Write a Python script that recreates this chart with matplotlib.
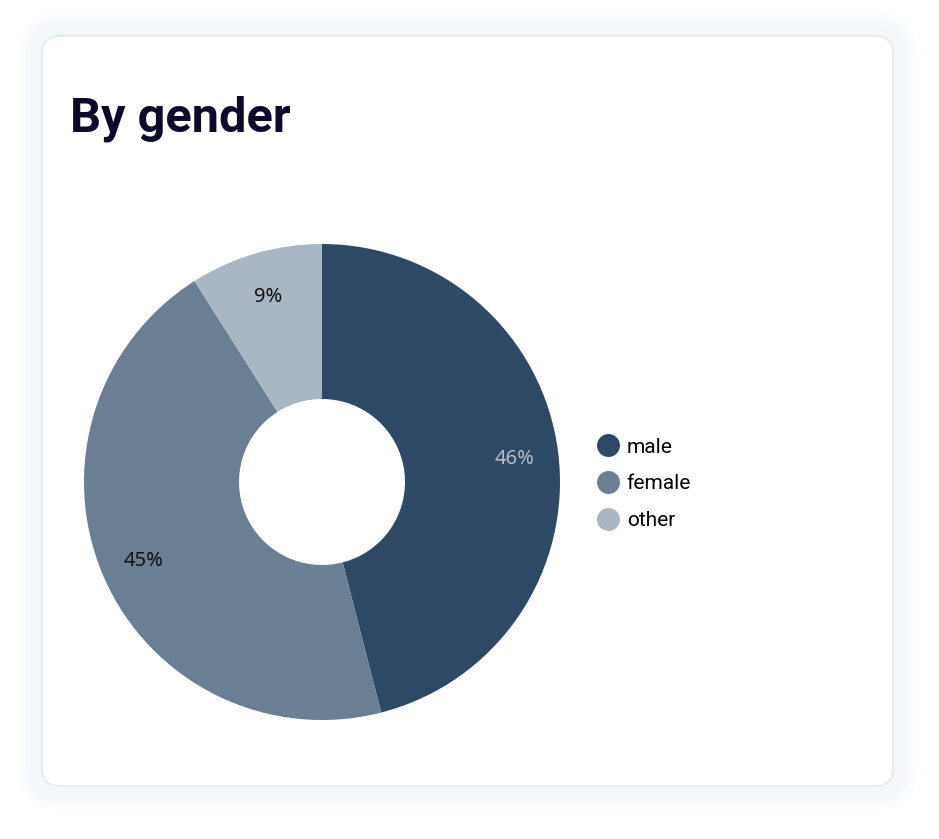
import matplotlib.pyplot as plt
from matplotlib.patches import FancyBboxPatch
from matplotlib.lines import Line2D

# data
labels = ['male', 'female', 'other']
shares = [46, 45, 9]
colors = ['#2e4966', '#6a7f93', '#a9b6c4']
pct_colors = ['#b4bcc5', '#111111', '#111111']

W, H = 939, 839
fig = plt.figure(figsize=(W / 100, H / 100), dpi=100)
fig.patch.set_facecolor('white')

# background card with soft shadow
bg = fig.add_axes([0, 0, 1, 1])
bg.set_xlim(0, W)
bg.set_ylim(H, 0)
bg.axis('off')
for pad, a in [(24, 0.2), (20, 0.3), (16, 0.45), (12, 0.6), (8, 0.8), (4, 1.0)]:
    bg.add_patch(FancyBboxPatch((42 - pad, 36 - pad), 851 + 2 * pad, 750 + 2 * pad,
                                boxstyle='round,pad=0,rounding_size=%d' % (18 + pad),
                                facecolor='#f3f7fa', edgecolor='none', alpha=a))
bg.add_patch(FancyBboxPatch((42, 36), 851, 750, boxstyle='round,pad=0,rounding_size=18',
                            facecolor='white', edgecolor='#e6e8eb', linewidth=1.2))
bg.text(70, 131, 'By gender', fontsize=35, fontweight='bold', family='Roboto',
        color='#0b0a2a', va='baseline', ha='left')

# donut
cx, cy, r = 322, 482, 238
ax = fig.add_axes([(cx - r) / W, (H - cy - r) / H, 2 * r / W, 2 * r / H])
wedges, texts, autotexts = ax.pie(shares, colors=colors, startangle=90, counterclock=False,
                                  autopct='%.0f%%', pctdistance=0.815,
                                  wedgeprops=dict(width=1 - 83 / 238, linewidth=0))
for t, c in zip(autotexts, pct_colors):
    t.set_color(c)
    t.set_fontsize(14.5)
    t.set_family('Noto Sans')
    t.set_va('top')
    t.set_y(t.get_position()[1] + 0.035)
ax.set_xlim(-1, 1)
ax.set_ylim(-1, 1)
ax.axis('off')

handles = [Line2D([], [], marker='o', linestyle='none', markersize=16.5,
                  markerfacecolor=c, markeredgecolor='none') for c in colors]
fig.legend(handles, labels, loc='center left', bbox_to_anchor=(585 / W, 1 - 484 / H),
           frameon=False, prop={'family': 'Roboto', 'size': 15},
           handletextpad=0.3, labelspacing=0.85, handlelength=1.2, borderpad=0)

fig.savefig('out.png', dpi=100, facecolor='white')
